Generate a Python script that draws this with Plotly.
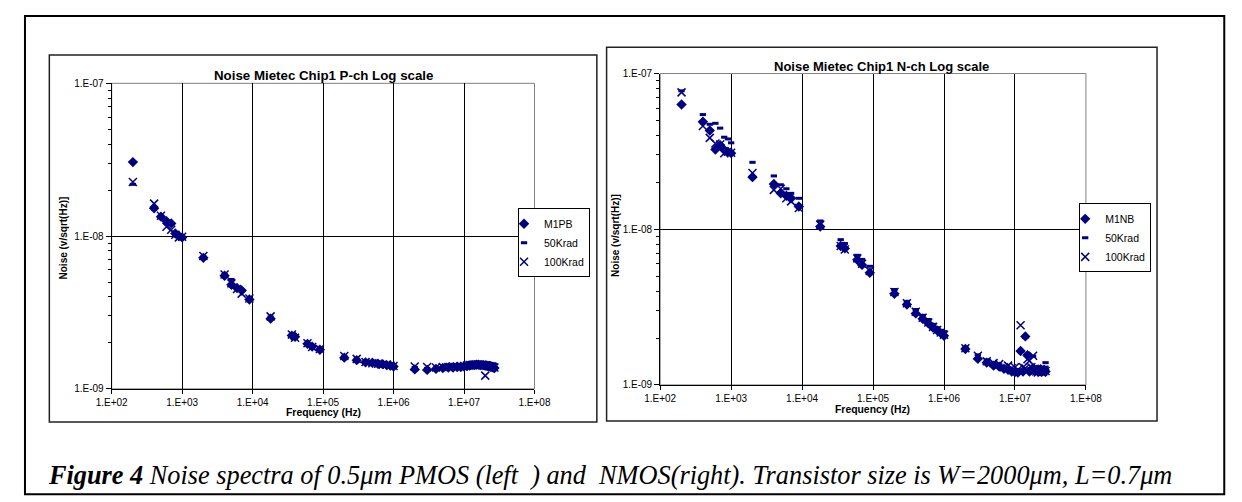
import plotly.graph_objects as go

W, H = 1242, 502
PAGE_MARGIN = 8  # default <body> margin of the written page

# ---------------- data ----------------
FREQ_P = [200, 400, 500, 600, 700, 800, 900, 1000, 2000, 4000, 5000, 6000, 7000, 9000,
          18000, 36000, 40000, 60000, 70000, 90000,
          2e5, 3e5, 4e5, 5e5, 6e5, 7e5, 8e5, 9e5, 1e6, 2e6, 3e6, 4e6,
          5e6, 6e6, 7e6, 8e6, 9e6, 1e7, 1.1e7, 1.2e7, 1.3e7, 1.4e7, 1.5e7, 1.6e7,
          1.7e7, 1.8e7, 1.9e7, 2e7, 2.1e7, 2.2e7, 2.3e7, 2.4e7, 2.5e7, 2.6e7, 2.7e7]

# noise values in nV/sqrt(Hz)
P_M1PB = [30.5, 15.2, 13.4, 12.5, 12.1, 10.4, 10.0, 9.8, 7.2, 5.5, 4.8, 4.57, 4.4, 3.84,
          2.88, 2.23, 2.19, 1.97, 1.89, 1.80,
          1.60, 1.54, 1.49, 1.48, 1.46, 1.45, 1.43, 1.42, 1.40, 1.34, 1.33, 1.35,
          1.37, 1.38, 1.38, 1.39, 1.39, 1.40, 1.41, 1.42, 1.43, 1.43, 1.44, 1.44,
          1.43, 1.43, 1.43, 1.42, 1.42, 1.41, 1.41, 1.40, 1.39, 1.38, 1.37]
P_50K = [21.8, 15.0, 13.3, 12.3, 11.9, 10.3, 10.0, 9.7, 7.3, 5.6, 5.2, 4.6, 4.45, 3.86,
         2.95, 2.25, 2.20, 1.98, 1.91, 1.81,
         1.63, 1.56, 1.50, 1.48, 1.47, 1.45, 1.44, 1.43, 1.41, 1.38, 1.36, 1.37,
         1.38, 1.39, 1.39, 1.40, 1.40, 1.41, 1.42, 1.43, 1.44, 1.44, 1.45, 1.45,
         1.44, 1.44, 1.43, 1.43, 1.42, 1.42, 1.41, 1.41, 1.40, 1.39, 1.38]
P_100K = [22.6, 16.3, 13.6, 11.5, 11.0, 10.2, 9.8, 9.9, 7.4, 5.6, 4.9, 4.5, 4.2, 3.9,
          2.98, 2.27, 2.16, 1.99, 1.88, 1.82,
          1.64, 1.57, 1.50, 1.47, 1.46, 1.44, 1.44, 1.42, 1.41, 1.40, 1.39, 1.38,
          1.39, 1.39, 1.40, 1.40, 1.41, 1.41, 1.42, 1.43, 1.43, 1.44, 1.44, 1.44,
          1.43, 1.43, 1.42, 1.22, 1.42, 1.41, 1.41, 1.40, 1.40, 1.39, 1.38]

FREQ_N = [200, 400, 500, 600, 700, 800, 900, 1000, 2000, 4000, 5000, 6000, 7000, 9000,
          18000, 35000, 40000, 60000, 70000, 90000,
          2e5, 3e5, 4e5, 5e5, 6e5, 7e5, 8e5, 9e5, 1e6, 2e6, 3e6, 4e6,
          5e6, 6e6, 7e6, 8e6, 9e6, 1e7, 1.1e7, 1.2e7, 1.3e7, 1.4e7, 1.5e7, 1.6e7,
          1.7e7, 1.8e7, 1.9e7, 2e7, 2.1e7, 2.2e7, 2.3e7, 2.4e7, 2.5e7, 2.6e7, 2.7e7]
N_M1NB = [63.3, 49.1, 43.1, 32.5, 34.7, 32.3, 31.5, 30.8, 21.6, 19.5, 17.0, 16.4, 15.8, 14.0,
          10.4, 7.8, 7.53, 6.37, 5.9, 5.25,
          3.85, 3.28, 2.88, 2.66, 2.49, 2.34, 2.24, 2.15, 2.07, 1.70, 1.47, 1.39,
          1.33, 1.31, 1.27, 1.25, 1.22, 1.21, 1.20, 1.65, 1.22, 2.05, 1.55, 1.22,
          1.25, 1.28, 1.23, 1.25, 1.22, 1.24, 1.26, 1.22, 1.23, 1.25, 1.22]
N_50K = [77.4, 54.5, 47.2, 47.9, 44.6, 39.0, 38.0, 35.9, 26.9, 22.0, 19.3, 18.2, 17.0, 15.8,
         11.3, 8.57, 8.1, 6.8, 6.4, 5.78,
         4.10, 3.44, 3.05, 2.80, 2.63, 2.45, 2.33, 2.24, 2.20, 1.75, 1.56, 1.45,
         1.38, 1.35, 1.30, 1.28, 1.26, 1.25, 1.22, 1.25, 1.24, 2.02, 1.58, 1.27,
         1.25, 1.53, 1.30, 1.26, 1.24, 1.27, 1.25, 1.23, 1.27, 1.30, 1.39]
N_100K = [75.7, 46.0, 38.6, 35.5, 35.0, 30.8, 31.5, 31.0, 23.0, 17.9, 18.2, 15.8, 15.1, 13.7,
          10.7, 7.8, 7.4, 6.5, 6.0, 5.4,
          3.95, 3.35, 2.95, 2.70, 2.52, 2.36, 2.25, 2.17, 2.10, 1.72, 1.54, 1.42,
          1.38, 1.36, 1.30, 1.33, 1.28, 1.30, 1.25, 2.42, 1.30, 1.28, 1.46, 1.43,
          1.30, 1.54, 1.27, 1.22, 1.20, 1.24, 1.26, 1.20, 1.22, 1.25, 1.23]

X_TICKS = [1e2, 1e3, 1e4, 1e5, 1e6, 1e7, 1e8]
X_LABELS = ["1.E+02", "1.E+03", "1.E+04", "1.E+05", "1.E+06", "1.E+07", "1.E+08"]
Y_TICKS = [1e-9, 1e-8, 1e-7]
Y_LABELS = ["1.E-09", "1.E-08", "1.E-07"]
Y_MINOR = [m * d for d in (1e-9, 1e-8) for m in range(2, 10)]

LEFT_TITLE = "Noise Mietec Chip1 P-ch Log scale"
RIGHT_TITLE = "Noise Mietec Chip1 N-ch Log scale"
X_TITLE = "Frequency (Hz)"
Y_TITLE = "Noise (v/sqrt(Hz)]"
LEFT_NAMES = ["M1PB", "50Krad", "100Krad"]
RIGHT_NAMES = ["M1NB", "50Krad", "100Krad"]
CAPTION_BOLD = "Figure 4"
CAPTION = (" Noise spectra of 0.5\u03bcm PMOS (left\u00a0 ) and\u00a0 NMOS(right). "
           "Transistor size is W=2000\u03bcm, L=0.7\u03bcm")

# ---------------- styling ----------------
NAVY = "#000080"
SANS = "Liberation Sans, Arial, sans-serif"
SERIF = "Liberation Serif, Times New Roman, serif"


def px(x):
    """window pixel x -> paper fraction"""
    return (x - PAGE_MARGIN) / W


def py(y):
    """window pixel y -> paper fraction"""
    return 1 - (y - PAGE_MARGIN) / H


MARKERS = [
    dict(symbol="diamond", size=8, color=NAVY, line=dict(width=0)),
    dict(symbol="line-ew", size=4.5, color=NAVY, line=dict(color=NAVY, width=3)),
    dict(symbol="x-thin", size=8, color=NAVY, line=dict(color=NAVY, width=1.5)),
]

fig = go.Figure()

for names, freq, series, xa, ya, leg in [
    (LEFT_NAMES, FREQ_P, [P_M1PB, P_50K, P_100K], "x", "y", "legend"),
    (RIGHT_NAMES, FREQ_N, [N_M1NB, N_50K, N_100K], "x2", "y2", "legend2"),
]:
    for name, vals, mk in zip(names, series, MARKERS):
        fig.add_trace(go.Scatter(
            x=freq, y=[v * 1e-9 for v in vals], mode="markers", name=name,
            marker=mk, xaxis=xa, yaxis=ya, legend=leg, cliponaxis=False,
        ))

axis_common = dict(
    type="log", showline=True, linecolor="black", linewidth=1, mirror=False,
    ticks="outside", tickcolor="black", ticklen=4, tickwidth=1,
    showgrid=True, gridcolor="black", gridwidth=1, zeroline=False,
    tickfont=dict(family=SANS, size=10, color="black"),
)

L_PLOT = (98, 532, 79, 392)
R_PLOT = (661, 1098, 69, 388)

for sfx, (x0, x1, y0, y1) in [("", L_PLOT), ("2", R_PLOT)]:
    fig.update_layout(**{
        "xaxis" + sfx: dict(axis_common, domain=[px(x0), px(x1)], range=[2, 8],
                            tickvals=X_TICKS, ticktext=X_LABELS,
                            anchor="y" + sfx),
        "yaxis" + sfx: dict(axis_common, domain=[py(y1), py(y0)], range=[-9, -7],
                            tickvals=Y_TICKS, ticktext=Y_LABELS, ticklen=5,
                            minor=dict(tickvals=Y_MINOR, ticks="outside", ticklen=3,
                                       tickcolor="black", showgrid=False),
                            anchor="x" + sfx),
    })

shapes = []
# outer page frame
shapes.append(dict(type="rect", xref="paper", yref="paper",
                   x0=px(9), x1=px(1240), y0=py(500), y1=py(10),
                   line=dict(color="black", width=2), layer="below"))
# chart frames
for (x0, x1, y0, y1) in [(34, 596, 50, 426), (606, 1171, 42, 425)]:
    shapes.append(dict(type="rect", xref="paper", yref="paper",
                       x0=px(x0), x1=px(x1), y0=py(y1), y1=py(y0),
                       line=dict(color="#222222", width=1.5), layer="below"))
# plot-area borders (gray)
for xa, ya in [("x", "y"), ("x2", "y2")]:
    shapes.append(dict(type="rect", xref=xa + " domain", yref=ya + " domain",
                       x0=0, x1=1, y0=0, y1=1,
                       line=dict(color="#808080", width=1), layer="below"))

annotations = []
for text, x, y, size in [(LEFT_TITLE, 315, 71, 13.3), (RIGHT_TITLE, 888, 62, 13)]:
    annotations.append(dict(text="<b>" + text + "</b>", x=px(x), y=py(y),
                            xref="paper", yref="paper", showarrow=False,
                            xanchor="center", yanchor="middle",
                            font=dict(family=SANS, size=size, color="black")))
for x, y in [(315, 416), (879, 413)]:
    annotations.append(dict(text="<b>" + X_TITLE + "</b>", x=px(x), y=py(y),
                            xref="paper", yref="paper", showarrow=False,
                            xanchor="center", yanchor="middle",
                            font=dict(family=SANS, size=10.4, color="black")))
for x, y in [(49, 237), (615, 235)]:
    annotations.append(dict(text="<b>" + Y_TITLE + "</b>", x=px(x), y=py(y),
                            xref="paper", yref="paper", showarrow=False,
                            xanchor="center", yanchor="middle", textangle=-90,
                            font=dict(family=SANS, size=10, color="black")))
annotations.append(dict(text="<b><i>" + CAPTION_BOLD + "</i></b><i>" + CAPTION + "</i>",
                        x=px(31), y=py(481), xref="paper", yref="paper",
                        showarrow=False, xanchor="left", yanchor="middle",
                        font=dict(family=SERIF, size=26.3, color="black")))

legend_common = dict(
    bgcolor="white", bordercolor="black", borderwidth=1,
    font=dict(family=SANS, size=10.5, color="black"),
    itemwidth=30, indentation=-15, xanchor="right", yanchor="top",
    tracegroupgap=0,
)

fig.update_layout(
    width=W, height=H,
    margin=dict(l=0, r=0, t=0, b=0),
    paper_bgcolor="white", plot_bgcolor="white",
    showlegend=True,
    legend=dict(legend_common, x=px(589), y=py(207)),
    legend2=dict(legend_common, x=px(1165), y=py(202)),
    shapes=shapes, annotations=annotations,
)

fig.write_html("out.html")
